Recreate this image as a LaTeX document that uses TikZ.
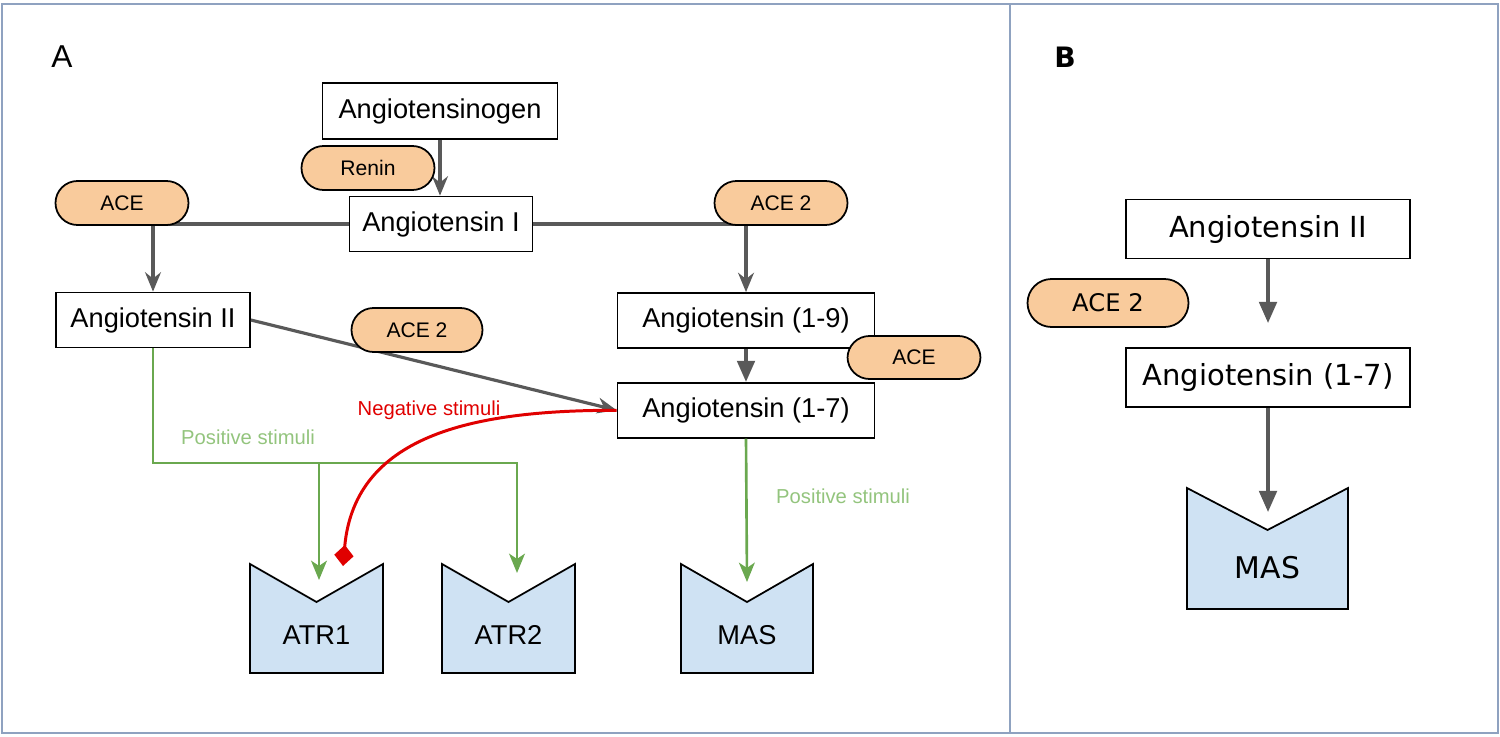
\documentclass[tikz,border=0pt]{standalone}
\usepackage{fontspec}
\setmainfont{Liberation Sans}
\newfontfamily\dvsans{DejaVu Sans}
\usetikzlibrary{positioning,arrows.meta}
\definecolor{pill}{HTML}{F9CB9C}
\definecolor{recfill}{HTML}{CFE2F3}
\definecolor{posgreen}{HTML}{6AA84F}
\definecolor{poslabel}{HTML}{93C47D}
\definecolor{arrgray}{HTML}{595959}
\definecolor{panelframe}{HTML}{8FA2C0}
\definecolor{negred}{HTML}{E00000}

\begin{document}
\begin{tikzpicture}[x=1cm,y=1cm,font=\fontsize{15.5}{18}\selectfont,
  box/.style={draw,line width=1pt,fill=white,inner sep=0pt,minimum height=1.1cm},
  enz/.style={draw,line width=1pt,fill=pill,rounded corners=0.44cm,minimum width=2.66cm,
    minimum height=0.88cm,inner sep=0pt,font=\fontsize{12}{14}\selectfont},
  conv/.style={arrgray,line width=1.8pt,-{Stealth[length=11pt,width=9pt]}},
  convtri/.style={arrgray,line width=1.9pt,-{Triangle[length=12pt,width=10pt]}},
  posarr/.style={posgreen,line width=1.5pt,-{Stealth[length=11pt,width=9pt,inset=3pt]}},
  negarr/.style={negred,line width=1.7pt,-{Diamond[length=12pt,width=11pt]}},
  rec/.style={draw,line width=1pt,fill=recfill},
  stim/.style={font=\fontsize{11.5}{14}\selectfont},
  bfont/.style={font=\dvsans\fontsize{16.5}{20}\selectfont}]
\useasboundingbox (0,0) rectangle (30,-14.72);
% panel frames
\draw[panelframe,line width=1.5pt] (0.04,-0.08) rectangle (20.2,-14.66);
\draw[panelframe,line width=1.5pt] (20.2,-0.08) rectangle (29.96,-14.66);
\node[font=\fontsize{18}{20}\selectfont] (lblA) at (1.24,-1.14) {A};
\node[font=\dvsans\bfseries\fontsize{16}{18}\selectfont] (lblB) at (21.3,-1.14) {B};

% panel A: peptides
\node[box,minimum width=4.7cm,minimum height=1.12cm] (angen) at (8.8,-2.22) {Angiotensinogen};
\node[box,minimum width=3.66cm] (angI) at (8.82,-4.48) {Angiotensin I};
\node[box,minimum width=3.88cm] (angII) at (3.06,-6.4) {Angiotensin II};
\node[box,minimum width=5.14cm] (ang19) at (14.92,-6.41) {Angiotensin (1-9)};
\node[box,minimum width=5.14cm,below=0.66cm of ang19] (ang17) {Angiotensin (1-7)};

% receptors
\foreach \nm/\xa/\xb/\txt in {atr1/5.0/7.66/ATR1,atr2/8.84/11.5/ATR2,mas/13.62/16.26/MAS}{
  \draw[rec] (\xa,-11.28) -- ({(\xa+\xb)/2},-12.04) -- (\xb,-11.28) -- (\xb,-13.46)
    -- (\xa,-13.46) -- cycle;
  \node (\nm) at ({(\xa+\xb)/2},-12.7) {\txt};
}
\coordinate (split) at (6.38,-9.26);
\coordinate (atr1in) at (6.38,-11.6);
\coordinate (atr2in) at (10.34,-11.46);
\coordinate (masin) at (14.94,-11.64);
\coordinate (negend) at (6.86,-11.32);

% conversions
\draw[conv] (angen.south) -- (angen.south |- angI.north);
\draw[conv] (angI.west) -| (angII.north);
\draw[conv] (angI.east) -| (ang19.north);
\draw[convtri] (ang19.south) -- (ang17.north);
\draw[conv] (angII.east) -- (ang17.west);

% stimuli
\draw[posarr] (angII.south) |- (split) -| (atr2in);
\draw[posarr] (split) -- (atr1in);
\draw[posarr] (ang17.south) -- (masin);
\draw[negarr] (ang17.west) to[out=180,in=85,looseness=1.1] (negend);
\node[stim,poslabel,anchor=west] (posL) at (3.5,-8.74) {Positive stimuli};
\node[stim,poslabel,anchor=west] (posR) at (15.4,-9.92) {Positive stimuli};
\node[stim,negred] (negL) at (8.58,-8.2) {Negative stimuli};

% enzymes
\node[enz] (renin) at (7.36,-3.36) {Renin};
\node[enz] (aceL) at (2.44,-4.06) {ACE};
\node[enz] (ace2top) at (15.62,-4.06) {ACE 2};
\node[enz,minimum width=2.62cm] (ace2mid) at (8.34,-6.6) {ACE 2};
\node[enz,minimum height=0.86cm] (aceR) at (18.28,-7.15) {ACE};

% panel B
\node[box,bfont,minimum width=5.68cm,minimum height=1.18cm] (angIIb) at (25.36,-4.58) {Angiotensin II};
\node[box,bfont,minimum width=5.68cm,minimum height=1.18cm] (ang17b) at (25.36,-7.55) {Angiotensin (1-7)};
\draw[rec] (23.74,-9.76) -- (25.35,-10.6) -- (26.96,-9.76) -- (26.96,-12.18) -- (23.74,-12.18) -- cycle;
\node[font=\dvsans\fontsize{17}{20}\selectfont] (masb) at (25.35,-11.36) {MAS};
\coordinate (bstop) at (25.36,-6.46);
\coordinate (masbin) at (25.36,-10.24);
\draw[convtri] (angIIb.south) -- (bstop);
\draw[convtri] (ang17b.south) -- (masbin);
\node[enz,font=\dvsans\fontsize{13.8}{16}\selectfont,minimum width=3.22cm,minimum height=0.96cm,
  rounded corners=0.48cm] (ace2b) at (22.16,-6.06) {ACE 2};
\end{tikzpicture}
\end{document}
